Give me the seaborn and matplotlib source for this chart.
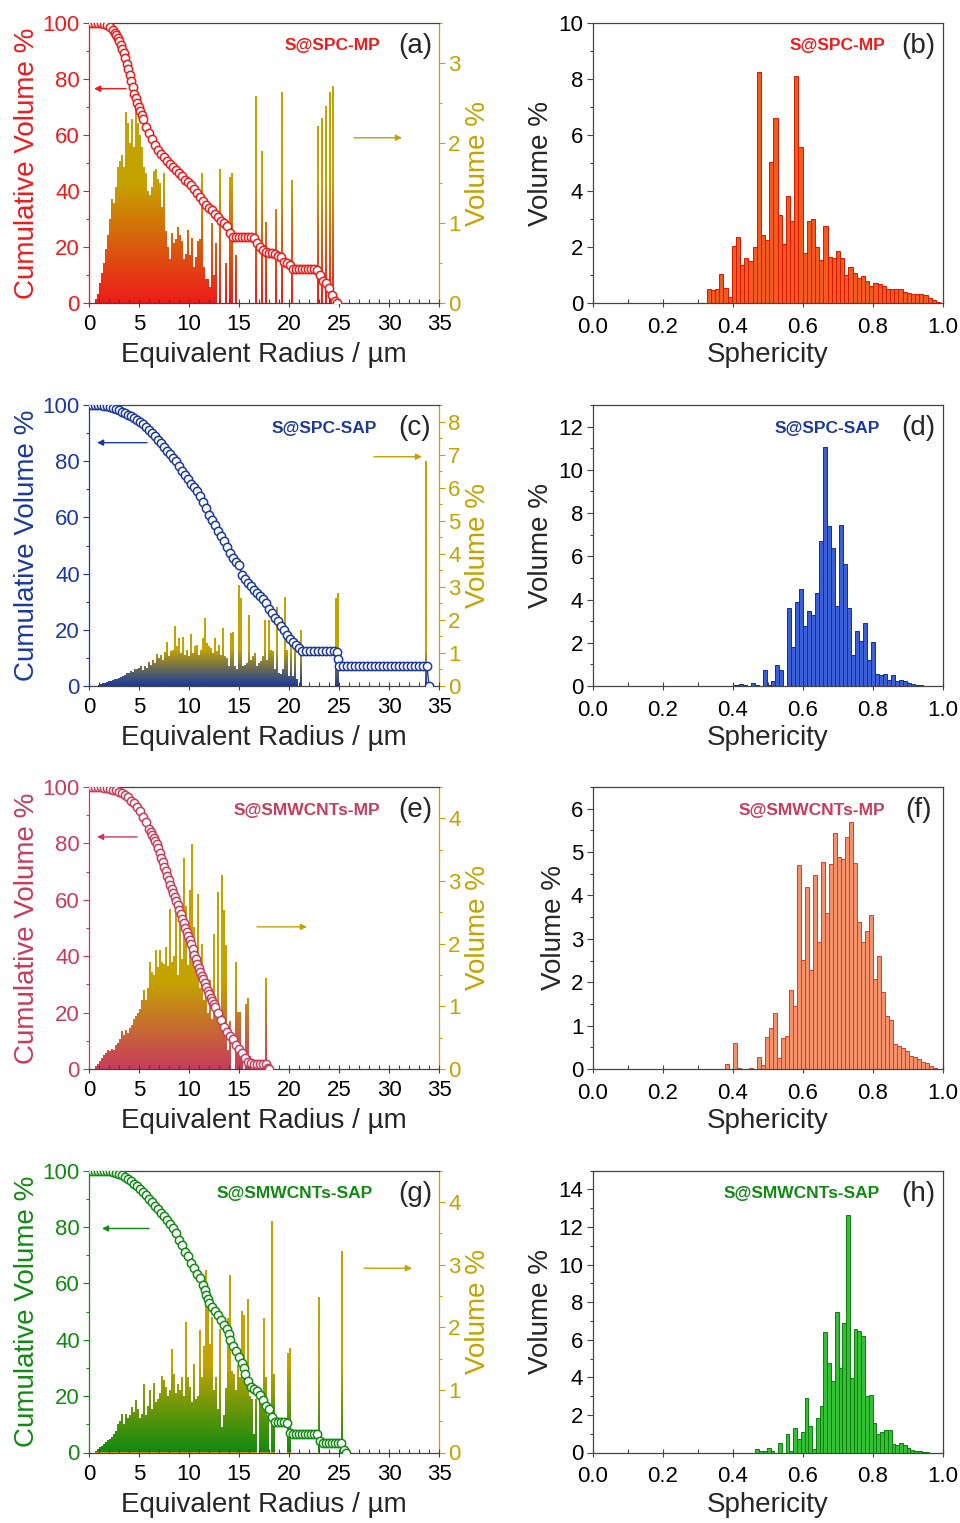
import matplotlib
matplotlib.use("Agg")
import matplotlib.pyplot as plt
import numpy as np
import pandas as pd
import seaborn as sns
from matplotlib.colors import LinearSegmentedColormap
from matplotlib.path import Path
from matplotlib.ticker import FormatStrFormatter, MultipleLocator

sns.set_style("ticks")
plt.rcParams["font.family"] = ["Liberation Sans", "DejaVu Sans"]

# ---------------------------------------------------------------
# data
# ---------------------------------------------------------------
RAD_STEP = 0.2  # width of the radius bins (um)

# (a) S@SPC-MP
CUM_A = [(0, 100), (0.3, 100), (0.6, 100), (0.9, 100), (1.2, 99.9), (1.5, 99.6), (1.8, 99.2),
         (2.1, 98.6), (2.4, 97.3), (2.55, 96.5), (2.7, 95.6), (2.85, 94.6), (3.0, 93.4),
         (3.15, 92.1), (3.3, 90.7), (3.45, 89.1), (3.6, 87.3), (3.75, 85.4), (3.9, 83.5),
         (4.05, 81.4), (4.2, 79.3), (4.35, 77.0), (4.5, 74.6), (4.65, 73.0), (4.8, 71.5),
         (4.95, 70.0), (5.1, 68.5), (5.25, 67.0), (5.4, 65.6), (5.7, 62.9), (6.0, 60.6),
         (6.3, 58.4), (6.6, 56.4), (6.9, 54.6), (7.2, 53.2), (7.5, 52.0), (7.8, 50.6), (8.1, 49.5),
         (8.4, 48.4), (8.7, 47.4), (9.0, 46.3), (9.3, 45.2), (9.6, 44.1), (9.9, 43.2), (10.2, 42.1),
         (10.5, 40.8), (10.8, 39.4), (11.1, 38.0), (11.4, 36.5), (11.7, 34.9), (12.0, 34.0),
         (12.3, 33.3), (12.6, 32.0), (12.9, 30.6), (13.2, 29.4), (13.5, 28.6), (13.8, 27.4),
         (14.1, 25.0), (14.4, 23.8), (14.7, 23.5), (15.0, 23.5), (15.3, 23.5), (15.6, 23.5),
         (15.9, 23.5), (16.2, 23.5), (16.5, 23.4), (16.8, 21.5), (17.1, 20.0), (17.4, 19.0),
         (17.7, 18.2), (18.0, 18.0), (18.3, 17.9), (18.6, 17.6), (18.9, 16.8), (19.2, 16.4),
         (19.5, 14.8), (19.8, 14.2), (20.1, 13.8), (20.4, 12.2), (20.7, 12.1), (21.0, 12.1),
         (21.3, 12.1), (21.6, 12.1), (21.9, 12.1), (22.2, 12.1), (22.5, 12.1), (22.8, 11.8),
         (23.1, 10.2), (23.4, 7.8), (23.7, 7.4), (24.0, 5.5), (24.3, 2.8), (24.6, 0.8), (24.8, 0.0)]
RAD_A_START = 0.7
RAD_A = [0.05, 0.12, 0.25, 0.38, 0.5, 0.68, 0.85, 1.05, 1.3, 1.25,
         1.45, 1.7, 1.78, 1.85, 1.7, 2.38, 2.25, 2.0, 2.3, 1.95,
         2.42, 2.25, 2.1, 1.95, 1.7, 1.62, 1.4, 1.35, 1.45, 1.65,
         1.68, 1.55, 1.5, 1.2, 1.62, 0.9, 0.7, 0.55, 0.88, 0.75,
         0.8, 0.95, 0.85, 0.78, 0.55, 0.62, 0.92, 0.6, 0.82, 0.45,
         0.58, 0.78, 0.8, 1.63, 0.45, 0.3, 0.3, 0.2, 1.0, 0.35,
         0.75, 0.0, 1.67, 0.0, 0.0, 0.5, 0.0, 1.58, 1.62, 0.0, 0.6]
SPIKES_A = [(16.7, 2.58), (17.3, 1.9), (17.7, 1.02), (18.7, 1.18), (19.3, 2.64), (20.3, 1.54),
            (22.9, 2.21), (23.3, 2.31), (23.7, 2.46), (24.1, 2.64), (24.4, 2.71)]

# (c) S@SPC-SAP
CUM_C = [(0, 100), (0.3, 100), (0.6, 100), (0.9, 100), (1.2, 99.9), (1.5, 99.8), (1.8, 99.6),
         (2.1, 99.4), (2.4, 99.0), (2.7, 98.6), (3.0, 98.1), (3.3, 97.6), (3.6, 97.2), (3.9, 96.6),
         (4.2, 96.0), (4.5, 95.2), (4.8, 94.5), (5.1, 94.0), (5.4, 93.3), (5.7, 92.2), (6.0, 91.1),
         (6.3, 90.0), (6.6, 88.8), (6.9, 87.5), (7.2, 86.3), (7.5, 85.0), (7.8, 83.7), (8.1, 82.4),
         (8.4, 81.0), (8.7, 80.0), (9.0, 78.2), (9.3, 76.6), (9.6, 75.0), (9.9, 73.5), (10.2, 72.0),
         (10.5, 70.8), (10.8, 69.4), (11.1, 67.5), (11.4, 65.5), (11.7, 63.5), (12.0, 61.0),
         (12.3, 59.0), (12.6, 57.2), (12.9, 55.3), (13.2, 53.4), (13.5, 51.5), (13.8, 49.5),
         (14.1, 47.5), (14.4, 45.5), (14.7, 44.0), (15.0, 43.0), (15.3, 39.5), (15.6, 38.0),
         (15.9, 36.8), (16.2, 35.5), (16.5, 34.2), (16.8, 33.0), (17.1, 32.0), (17.4, 31.0),
         (17.7, 29.5), (18.0, 27.5), (18.3, 26.0), (18.6, 24.2), (18.9, 23.0), (19.2, 21.5),
         (19.5, 20.0), (19.8, 18.0), (20.1, 16.8), (20.4, 15.5), (20.7, 14.5), (21.0, 13.5),
         (21.3, 12.5), (21.7, 12.3), (22.1, 12.3), (22.5, 12.3), (22.9, 12.3), (23.3, 12.3),
         (23.7, 12.3), (24.1, 12.3), (24.5, 12.3), (24.8, 12.0), (24.9, 9.6), (25.0, 7.0),
         (25.4, 7.0), (25.8, 7.0), (26.2, 7.0), (26.6, 7.0), (27.0, 7.0), (27.4, 7.0), (27.8, 7.0),
         (28.2, 7.0), (28.6, 7.0), (29.0, 7.0), (29.4, 7.0), (29.8, 7.0), (30.2, 7.0), (30.6, 7.0),
         (31.0, 7.0), (31.4, 7.0), (31.8, 7.0), (32.2, 7.0), (32.6, 7.0), (33.0, 7.0), (33.4, 7.0),
         (33.8, 7.0), (34.0, 0.0)]
RAD_C_START = 1.0
RAD_C = [0.04, 0.06, 0.08, 0.1, 0.12, 0.14, 0.15, 0.18, 0.2, 0.22,
         0.25, 0.28, 0.3, 0.33, 0.4, 0.38, 0.45, 0.42, 0.52, 0.5,
         0.55, 0.6, 0.48, 0.62, 0.55, 0.72, 0.65, 0.8, 0.7, 0.98,
         0.85, 0.95, 0.8, 1.02, 1.32, 0.9, 1.05, 1.1, 1.8, 1.2,
         1.44, 1.0, 1.49, 0.95, 1.1, 0.9, 1.57, 1.0, 1.2, 1.25,
         0.95, 1.1, 1.45, 2.05, 1.3, 1.2, 1.15, 1.0, 1.44, 1.05,
         1.25, 0.95, 1.75, 0.9, 0.85, 0.6, 1.6, 1.62, 0.6, 0.5,
         3.06, 2.65, 0.6, 0.65, 0.7, 2.15, 0.8, 0.9, 1.0, 0.6,
         0.7, 0.75, 0.9, 2.0, 0.8, 2.0, 1.1, 1.05, 0.5, 2.4,
         0.4, 0.35, 0.5, 2.7, 1.1, 0.3, 1.29, 0.3, 1.44, 0.2,
         0.0, 1.7]
SPIKES_C = [(24.7, 2.65), (24.9, 2.8), (33.7, 6.82)]

# (e) S@SMWCNTs-MP
CUM_E = [(0, 100), (0.3, 100), (0.6, 100), (0.9, 100), (1.2, 99.9), (1.5, 99.8), (1.8, 99.6),
         (2.1, 99.4), (2.4, 99.1), (2.7, 98.8), (3.0, 98.4), (3.3, 98.0), (3.6, 97.3), (3.9, 96.3),
         (4.2, 95.2), (4.5, 94.2), (4.8, 92.8), (5.1, 91.4), (5.4, 89.5), (5.7, 87.5), (6.0, 85.2),
         (6.15, 84.1), (6.3, 83.0), (6.45, 82.0), (6.6, 81.0), (6.75, 79.7), (6.9, 78.3),
         (7.05, 76.7), (7.2, 75.0), (7.35, 73.4), (7.5, 71.8), (7.65, 70.1), (7.8, 68.5),
         (7.95, 66.9), (8.1, 65.3), (8.25, 63.8), (8.4, 62.4), (8.55, 61.0), (8.7, 59.6),
         (8.85, 58.0), (9.0, 56.5), (9.15, 54.8), (9.3, 53.2), (9.45, 51.6), (9.6, 50.0),
         (9.75, 48.5), (9.9, 47.0), (10.05, 45.6), (10.2, 44.2), (10.35, 42.4), (10.5, 40.6),
         (10.65, 39.0), (10.8, 37.4), (10.95, 35.9), (11.1, 34.5), (11.25, 33.1), (11.4, 31.8),
         (11.55, 30.4), (11.7, 29.0), (11.85, 27.7), (12.0, 26.5), (12.15, 25.2), (12.3, 24.0),
         (12.45, 23.0), (12.6, 22.0), (12.9, 19.8), (13.2, 17.3), (13.5, 15.0), (13.8, 13.2),
         (14.1, 11.8), (14.4, 10.5), (14.7, 8.6), (15.0, 7.2), (15.3, 5.5), (15.6, 4.0),
         (15.9, 2.6), (16.2, 2.0), (16.5, 1.8), (16.8, 1.8), (17.1, 1.8), (17.4, 1.8),
         (17.7, 1.7), (17.9, 0.2), (18.0, 0.0)]
RAD_E_START = 0.7
RAD_E = [0.04, 0.08, 0.12, 0.18, 0.22, 0.26, 0.3, 0.28, 0.32, 0.3,
         0.38, 0.42, 0.48, 0.6, 0.55, 0.62, 0.58, 0.65, 0.7, 0.8,
         0.85, 0.9, 0.95, 1.1, 1.26, 1.1, 1.3, 1.71, 1.55, 1.5,
         1.9, 1.62, 1.9, 1.7, 1.68, 1.95, 1.65, 2.56, 1.7, 1.8,
         2.78, 1.5, 2.32, 1.75, 3.36, 2.6, 1.66, 2.86, 3.59, 2.27,
         1.6, 2.8, 1.3, 2.0, 1.1, 1.42, 0.9, 1.42, 0.8, 2.16,
         0.9, 2.83, 0.8, 3.1, 2.54, 1.98, 0.3, 0.76, 0.0, 0.0,
         1.71, 0.91, 0.91, 0.2, 0.0, 1.03, 1.13, 0.2, 0.0, 0.0,
         0.0, 0.0, 0.0, 0.0, 0.0, 1.46]
SPIKES_E = []

# (g) S@SMWCNTs-SAP
CUM_G = [(0, 100), (0.3, 100), (0.6, 100), (0.9, 100), (1.2, 100), (1.5, 100), (1.8, 100),
         (2.1, 99.8), (2.4, 99.6), (2.7, 99.3), (3.0, 99.0), (3.3, 98.3), (3.6, 97.7), (3.9, 97.1),
         (4.2, 96.2), (4.5, 95.3), (4.8, 94.4), (5.1, 93.4), (5.4, 92.4), (5.7, 91.2), (6.0, 90.1),
         (6.3, 88.9), (6.6, 87.6), (6.9, 86.3), (7.2, 85.0), (7.5, 83.8), (7.8, 82.5), (8.1, 81.2),
         (8.4, 79.5), (8.7, 77.8), (9.0, 75.5), (9.3, 73.5), (9.6, 71.3), (9.9, 69.6), (10.2, 67.4),
         (10.5, 65.5), (10.8, 63.5), (11.1, 61.8), (11.4, 59.5), (11.55, 57.8), (11.7, 56.0),
         (11.85, 54.5), (12.0, 53.0), (12.3, 51.5), (12.6, 50.2), (12.9, 48.8), (13.2, 47.0),
         (13.5, 45.3), (13.8, 44.0), (13.95, 42.0), (14.1, 40.0), (14.4, 37.8), (14.7, 36.0),
         (15.0, 34.0), (15.3, 31.8), (15.45, 29.9), (15.6, 28.0), (15.9, 25.5), (16.2, 23.4),
         (16.5, 22.5), (16.8, 21.8), (17.1, 20.3), (17.4, 18.5), (17.7, 16.5), (18.0, 15.4),
         (18.3, 12.5), (18.6, 11.0), (18.9, 11.0), (19.2, 11.0), (19.5, 11.0), (19.8, 10.5),
         (20.1, 6.8), (20.4, 6.6), (20.7, 6.6), (21.0, 6.6), (21.3, 6.6), (21.6, 6.6),
         (21.9, 6.6), (22.2, 6.6), (22.5, 6.6), (22.8, 6.6), (23.1, 4.0), (23.4, 3.3),
         (23.7, 3.3), (24.0, 3.3), (24.3, 3.3), (24.6, 3.3), (24.9, 3.3), (25.2, 3.3),
         (25.5, 1.0), (25.7, 0.0)]
RAD_G_START = 0.7
RAD_G = [0.03, 0.06, 0.08, 0.1, 0.14, 0.16, 0.2, 0.22, 0.25, 0.3,
         0.35, 0.45, 0.51, 0.61, 0.45, 0.62, 0.55, 0.6, 0.72, 0.65,
         0.84, 0.7, 0.55, 0.62, 1.09, 0.6, 0.75, 1.0, 0.7, 1.11,
         0.8, 0.85, 0.95, 1.22, 1.15, 1.05, 0.9, 1.0, 1.66, 1.25,
         0.95, 1.1, 1.0, 1.2, 0.9, 2.09, 1.2, 1.05, 0.8, 1.42,
         0.85, 0.9, 1.96, 1.2, 1.7, 2.92, 2.45, 1.73, 2.16, 1.0,
         1.2, 0.7, 1.97, 0.4, 0.6, 1.03, 2.14, 2.83, 1.3, 1.25,
         1.0, 1.4, 1.2, 2.26, 2.2, 1.2, 2.45, 0.9, 0.85, 0.3,
         0.85, 0.0, 0.85, 0.9, 2.15, 1.2, 0.6, 0.0, 3.7, 1.25]
SPIKES_G = [(19.9, 1.59), (20.1, 1.67), (23.0, 2.48), (25.3, 3.21)]

# sphericity histograms: first bin centre, bin width, heights (volume %)
SPH_B_START, SPH_B_WIDTH = 0.331, 0.0119
SPH_B = [0.5, 0.48, 0.52, 1.05, 0.55, 0.22, 2.05, 2.38, 1.38, 1.6,
         1.52, 2.02, 8.25, 2.45, 2.25, 5.05, 6.6, 3.15, 2.12, 3.82,
         2.95, 8.1, 5.58, 1.8, 2.95, 3.0, 2.02, 1.55, 2.75, 1.65,
         1.62, 1.88, 1.6, 1.02, 1.3, 1.08, 0.9, 0.98, 0.8, 0.62,
         0.72, 0.68, 0.6, 0.52, 0.5, 0.5, 0.5, 0.42, 0.35, 0.33,
         0.32, 0.32, 0.28, 0.2, 0.1, 0.03]
SPH_D_START, SPH_D_WIDTH = 0.410, 0.01143
SPH_D = [0.05, 0.08, 0.06, 0.02, 0.12, 0.03, 0.0, 0.75, 0.05, 0.22,
         0.98, 0.72, 0.02, 3.6, 1.82, 3.88, 4.5, 2.78, 3.45, 3.28,
         4.3, 6.7, 11.05, 7.4, 6.4, 3.72, 7.45, 5.65, 3.6, 1.42,
         2.55, 2.1, 2.9, 1.22, 2.05, 0.55, 0.52, 0.55, 0.3, 0.5,
         0.25, 0.3, 0.22, 0.15, 0.1, 0.05, 0.03]
SPH_F_START, SPH_F_WIDTH = 0.382, 0.01143
SPH_F = [0.12, 0.0, 0.6, 0.02, 0.0, 0.0, 0.03, 0.0, 0.27, 0.1,
         0.73, 0.95, 1.3, 0.25, 0.72, 0.75, 1.82, 1.45, 4.7, 2.52,
         4.2, 2.28, 4.48, 2.92, 4.77, 3.6, 4.72, 5.45, 4.88, 4.83,
         5.35, 5.7, 4.75, 3.38, 2.93, 3.17, 3.55, 2.08, 2.6, 1.78,
         1.22, 1.12, 0.58, 0.52, 0.48, 0.42, 0.3, 0.27, 0.22, 0.17,
         0.13, 0.08, 0.03]
SPH_H_START, SPH_H_WIDTH = 0.4695, 0.0108
SPH_H = [0.18, 0.1, 0.08, 0.25, 0.08, 0.0, 0.5, 0.0, 1.0, 0.1,
         1.3, 0.72, 1.08, 2.9, 1.42, 0.2, 1.85, 2.5, 6.4, 4.78,
         3.82, 7.48, 4.5, 6.9, 12.65, 3.95, 6.58, 6.45, 6.2, 3.0,
         3.05, 1.55, 1.0, 1.1, 1.18, 1.18, 0.45, 0.42, 0.48, 0.42,
         0.22, 0.15, 0.1, 0.08, 0.05, 0.03]

# ---------------------------------------------------------------
# styling
# ---------------------------------------------------------------
GOLD = "#c4a300"
RED = "#ee1b1b"
BLUE = "#1c3a9e"
CRIMSON = "#c83c5c"
GREEN = "#128a12"
AXIS_GREY = "#444444"
TICK_SIZE = 16

W, H = 960, 1523
ROW_TOP = [22.7, 405, 787, 1170.7]
ROW_BOT = [303.3, 686, 1069, 1452.5]


def px_rect(x0, top, x1, bot):
    return [x0 / W, 1 - bot / H, (x1 - x0) / W, (bot - top) / H]


def style_x_ticks(ax, pad):
    # Origin style: major ticks cross the axis, minor ticks point inwards
    ax.tick_params(axis="x", which="major", direction="inout", length=6, pad=pad)
    ax.tick_params(axis="x", which="minor", direction="in", length=3)


def radius_panel(ax, cum, start, dense, spikes, color, vmax, fade,
                 sample, sample_x, letter, arrow_left, arrow_right):
    ax2 = ax.twinx()
    ax.set_zorder(ax2.get_zorder() + 1)
    ax.patch.set_visible(False)

    x = [start + RAD_STEP * i for i in range(len(dense))] + [s[0] for s in spikes]
    h = list(dense) + [s[1] for s in spikes]
    bars = ax2.bar(x, h, width=0.17, color=GOLD, linewidth=0, zorder=1)

    # colour gradient (series colour at the base, gold higher up) clipped to the bars
    clip = Path.make_compound_path(
        *[b.get_path().transformed(b.get_patch_transform()) for b in bars])
    cmap = LinearSegmentedColormap.from_list(
        "fade", [(0, color), (fade / vmax, GOLD), (1, GOLD)])
    im = ax2.imshow(np.linspace(0, 1, 256).reshape(-1, 1), cmap=cmap, origin="lower",
                    extent=[0, 35, 0, vmax], aspect="auto", interpolation="bilinear", zorder=2)
    im.set_clip_path(clip, transform=ax2.transData)

    cum_df = pd.DataFrame(cum, columns=["radius", "cumulative"])
    sns.lineplot(data=cum_df, x="radius", y="cumulative", ax=ax, color=color, lw=1.0,
                 marker="o", markersize=6, markerfacecolor="white", markeredgecolor=color,
                 markeredgewidth=1.1, estimator=None, sort=True, zorder=5)

    ax.set_xlim(0, 35)
    ax.set_ylim(0, 100)
    ax2.set_ylim(0, vmax)
    ax.xaxis.set_major_locator(MultipleLocator(5))
    ax.xaxis.set_minor_locator(MultipleLocator(1))
    ax.yaxis.set_major_locator(MultipleLocator(20))
    ax.yaxis.set_minor_locator(MultipleLocator(10))
    ax2.yaxis.set_major_locator(MultipleLocator(1))
    ax2.yaxis.set_minor_locator(MultipleLocator(0.5))

    for side in ("top", "bottom"):
        ax.spines[side].set_color(AXIS_GREY)
    ax.spines["left"].set_color(color)
    ax.spines["right"].set_visible(False)
    for side in ("top", "bottom", "left"):
        ax2.spines[side].set_visible(False)
    ax2.spines["right"].set_color(GOLD)
    for s in list(ax.spines.values()) + list(ax2.spines.values()):
        s.set_linewidth(0.9)

    ax.tick_params(axis="x", which="both", color=AXIS_GREY, labelcolor="black",
                   labelsize=TICK_SIZE, width=0.8)
    ax.tick_params(axis="y", which="both", color=color, labelcolor=color,
                   labelsize=TICK_SIZE, width=0.8)
    ax2.tick_params(axis="y", which="both", color=GOLD, labelcolor=GOLD,
                    labelsize=TICK_SIZE, width=0.8)
    for a in (ax, ax2):
        a.tick_params(axis="y", which="major", length=4, pad=2.5)
        a.tick_params(axis="y", which="minor", length=2.5)
    style_x_ticks(ax, pad=5)

    ax.set_xlabel("Equivalent Radius / µm", fontsize=20, labelpad=5)
    ax.set_ylabel("Cumulative Volume %", fontsize=20, color=color, labelpad=2)
    ax2.set_ylabel("Volume %", fontsize=20, color=GOLD, labelpad=3)

    ax.text(sample_x, 0.918, sample, transform=ax.transAxes, ha="right", va="center",
            color=color, fontsize=12.5, fontweight="bold")
    ax.text(0.931, 0.918, letter, transform=ax.transAxes, ha="center", va="center",
            fontsize=20)

    arrow = dict(arrowstyle="-|>", lw=1.0, mutation_scale=9, shrinkA=0, shrinkB=0)
    ax.annotate("", xy=arrow_left[1], xytext=arrow_left[0],
                arrowprops=dict(arrow, color=color))
    ax.annotate("", xy=arrow_right[1], xytext=arrow_right[0],
                arrowprops=dict(arrow, color=GOLD))


def sphericity_panel(ax, start, width, heights, face, edge, ymax, ymajor,
                     sample, color, sample_x, letter):
    centers = [start + width * i for i in range(len(heights))]
    bin_edges = [c - width / 2 for c in centers] + [centers[-1] + width / 2]
    hist_df = pd.DataFrame({"sphericity": centers, "volume": heights})
    sns.histplot(data=hist_df, x="sphericity", weights="volume", bins=bin_edges, ax=ax,
                 color=face, edgecolor=edge, linewidth=0.7, alpha=1)

    ax.set_xlim(0, 1.0)
    ax.set_ylim(0, ymax)
    ax.xaxis.set_major_locator(MultipleLocator(0.2))
    ax.xaxis.set_minor_locator(MultipleLocator(0.1))
    ax.xaxis.set_major_formatter(FormatStrFormatter("%.1f"))
    ax.yaxis.set_major_locator(MultipleLocator(ymajor))
    ax.yaxis.set_minor_locator(MultipleLocator(ymajor / 2))
    for s in ax.spines.values():
        s.set_visible(True)
        s.set_color(AXIS_GREY)
        s.set_linewidth(0.9)
    ax.tick_params(which="both", color=AXIS_GREY, labelcolor="black",
                   labelsize=TICK_SIZE, width=0.8)
    ax.tick_params(axis="y", which="major", length=4, pad=3)
    ax.tick_params(axis="y", which="minor", length=2.5)
    style_x_ticks(ax, pad=7)

    ax.set_xlabel("Sphericity", fontsize=20, labelpad=3)
    ax.set_ylabel("Volume %", fontsize=20, labelpad=3)
    ax.text(sample_x, 0.918, sample, transform=ax.transAxes, ha="right", va="center",
            color=color, fontsize=12.5, fontweight="bold")
    ax.text(0.929, 0.918, letter, transform=ax.transAxes, ha="center", va="center",
            fontsize=20)


fig = plt.figure(figsize=(W / 100, H / 100), dpi=100)
fig.patch.set_facecolor("white")

left_axes = [fig.add_axes(px_rect(89, ROW_TOP[i], 439, ROW_BOT[i])) for i in range(4)]
right_axes = [fig.add_axes(px_rect(593, ROW_TOP[i], 943, ROW_BOT[i])) for i in range(4)]

radius_panel(left_axes[0], CUM_A, RAD_A_START, RAD_A, SPIKES_A, RED, 3.5, 1.5,
             "S@SPC-MP", 0.831, "(a)", [(3.7, 76.5), (0.5, 76.5)], [(26.5, 59), (31.3, 59)])
radius_panel(left_axes[1], CUM_C, RAD_C_START, RAD_C, SPIKES_C, BLUE, 8.5, 1.1,
             "S@SPC-SAP", 0.823, "(c)", [(5.8, 86.6), (0.8, 86.6)], [(28.5, 81.6), (33.3, 81.6)])
radius_panel(left_axes[2], CUM_E, RAD_E_START, RAD_E, SPIKES_E, CRIMSON, 4.5, 1.4,
             "S@SMWCNTs-MP", 0.831, "(e)", [(4.8, 82.3), (0.8, 82.3)], [(16.8, 50.4), (21.8, 50.4)])
radius_panel(left_axes[3], CUM_G, RAD_G_START, RAD_G, SPIKES_G, GREEN, 4.5, 1.4,
             "S@SMWCNTs-SAP", 0.811, "(g)", [(6.0, 79.5), (1.3, 79.5)], [(27.5, 65.4), (32.3, 65.4)])

sphericity_panel(right_axes[0], SPH_B_START, SPH_B_WIDTH, SPH_B, "#f25a1e", "#d41800", 10, 2,
                 "S@SPC-MP", RED, 0.834, "(b)")
sphericity_panel(right_axes[1], SPH_D_START, SPH_D_WIDTH, SPH_D, "#3a5fd6", "#132f8f", 13, 2,
                 "S@SPC-SAP", BLUE, 0.82, "(d)")
sphericity_panel(right_axes[2], SPH_F_START, SPH_F_WIDTH, SPH_F, "#f4916a", "#c04438", 6.5, 1,
                 "S@SMWCNTs-MP", CRIMSON, 0.834, "(f)")
sphericity_panel(right_axes[3], SPH_H_START, SPH_H_WIDTH, SPH_H, "#34c034", "#0f7d0f", 15, 2,
                 "S@SMWCNTs-SAP", GREEN, 0.82, "(h)")

fig.savefig("out.png", dpi=100)
